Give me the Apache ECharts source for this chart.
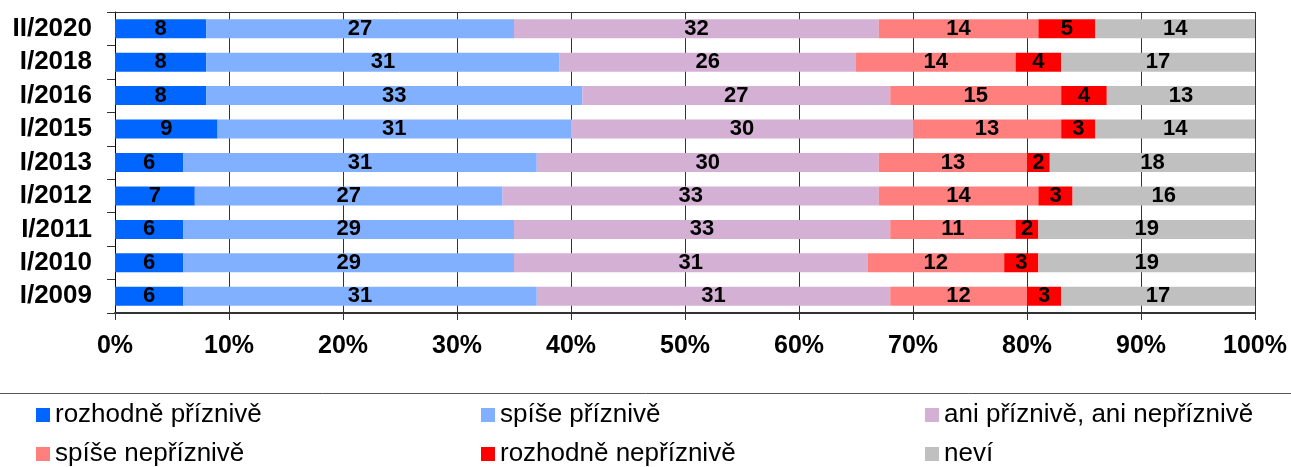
<!DOCTYPE html>
<html>
<head>
<meta charset="utf-8">
<script src="https://cdn.jsdelivr.net/npm/echarts@6/dist/echarts.min.js"></script>
<style>
  html, body { margin: 0; padding: 0; background: #fff; }
  #chart { width: 1291px; height: 467px; }
</style>
</head>
<body>
<div id="chart"></div>
<script>
// kategorie shora dolů
const categories = ['II/2020', 'I/2018', 'I/2016', 'I/2015', 'I/2013', 'I/2012', 'I/2011', 'I/2010', 'I/2009'];

const seriesNames = [
  'rozhodně příznivě',
  'spíše příznivě',
  'ani příznivě, ani nepříznivě',
  'spíše nepříznivě',
  'rozhodně nepříznivě',
  'neví'
];

const rozhodnePriznive = [8, 8, 8, 9, 6, 7, 6, 6, 6];
const spisePriznive = [27, 31, 33, 31, 31, 27, 29, 29, 31];
const aniAni = [32, 26, 27, 30, 30, 33, 33, 31, 31];
const spiseNepriznive = [14, 14, 15, 13, 13, 14, 11, 12, 12];
const rozhodneNepriznive = [5, 4, 4, 3, 2, 3, 2, 3, 3];
const nevi = [14, 17, 13, 14, 18, 16, 19, 19, 17];

const xTicks = [0, 10, 20, 30, 40, 50, 60, 70, 80, 90, 100];

const seriesData = [rozhodnePriznive, spisePriznive, aniAni, spiseNepriznive, rozhodneNepriznive, nevi];
const colors = ['#0066FF', '#80B0FF', '#D4B0D4', '#FF7F7F', '#FF0000', '#C0C0C0'];

const fontFamily = 'Liberation Sans, Arial, sans-serif';

const myChart = echarts.init(document.getElementById('chart'));

// legenda ve třech sloupcích po dvou položkách
const legendCommon = {
  orient: 'vertical',
  top: 402,
  height: 65,
  padding: 0,
  itemWidth: 14,
  itemHeight: 14,
  itemGap: 13,
  icon: 'rect',
  selectedMode: false,
  textStyle: { fontSize: 26, lineHeight: 26, color: '#000', fontFamily: fontFamily }
};

const option = {
  animation: false,
  color: colors,
  grid: { left: 115, right: 36, top: 12, bottom: 154, containLabel: false },
  legend: [
    Object.assign({ left: 36, data: [seriesNames[0], seriesNames[3]] }, legendCommon),
    Object.assign({ left: 481, data: [seriesNames[1], seriesNames[4]] }, legendCommon),
    Object.assign({ left: 925, data: [seriesNames[2], seriesNames[5]] }, legendCommon)
  ],
  xAxis: [
    {
      type: 'value',
      min: 0,
      max: 100,
      interval: 10,
      position: 'bottom',
      axisLine: { show: true, lineStyle: { color: '#333', width: 2 } },
      axisTick: { show: true, length: 7, lineStyle: { color: '#333' } },
      splitLine: { show: true, lineStyle: { color: '#333', width: 1 } },
      axisLabel: {
        formatter: (v) => xTicks.includes(v) ? v + '%' : '',
        fontSize: 25,
        fontWeight: 'bold',
        color: '#000',
        fontFamily: fontFamily,
        margin: 21
      }
    },
    {
      type: 'value',
      min: 0,
      max: 100,
      position: 'top',
      axisLine: { show: true, lineStyle: { color: '#333', width: 1 } },
      axisTick: { show: false },
      axisLabel: { show: false },
      splitLine: { show: false }
    }
  ],
  yAxis: {
    type: 'category',
    data: categories,
    inverse: true,
    axisLine: { show: true, lineStyle: { color: '#000', width: 1 } },
    axisTick: { show: true, length: 8, lineStyle: { color: '#333' } },
    axisLabel: {
      interval: 0,
      hideOverlap: false,
      fontSize: 26,
      fontWeight: 'bold',
      color: '#000',
      fontFamily: fontFamily,
      margin: 23
    }
  },
  graphic: [
    {
      type: 'line',
      shape: { x1: 0, y1: 393.5, x2: 1291, y2: 393.5 },
      style: { stroke: '#555', lineWidth: 1 }
    }
  ],
  series: seriesNames.map((name, i) => ({
    name: name,
    type: 'bar',
    stack: 'total',
    barWidth: 19,
    data: seriesData[i],
    itemStyle: { color: colors[i] },
    label: {
      show: true,
      position: 'inside',
      formatter: '{c}',
      fontSize: 22,
      fontWeight: 'bold',
      color: '#000',
      fontFamily: fontFamily
    }
  }))
};

myChart.setOption(option);
</script>
</body>
</html>
